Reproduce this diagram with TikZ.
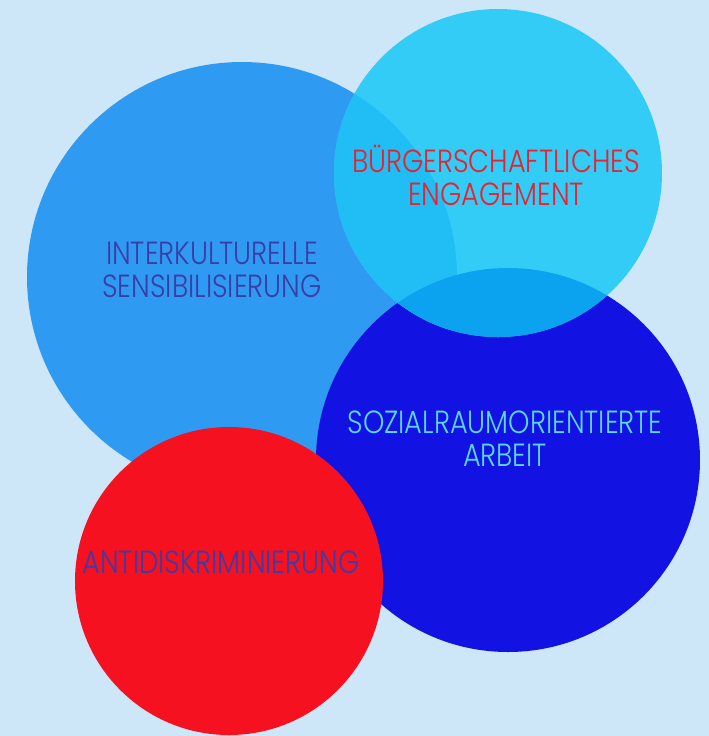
\documentclass[tikz,border=0pt]{standalone}
\usepackage{fontspec}
\usepackage{xcolor}
\usetikzlibrary{positioning}
\setmainfont{Poppins}[UprightFont=* Light, FakeStretch=0.85]

\definecolor{bg}{HTML}{CDE7F9}
\definecolor{skyblue}{HTML}{2F9AF2}
\definecolor{cyanblue}{HTML}{33CCF7}
\definecolor{cyanover}{HTML}{20BEF5}
\definecolor{darkover}{HTML}{0BA2F0}
\definecolor{deepblue}{HTML}{1212E2}
\definecolor{signalred}{HTML}{F5111F}
\definecolor{inktext}{HTML}{3B3DA6}
\definecolor{redtext}{HTML}{E8222E}
\definecolor{lighttext}{HTML}{5CD6FA}

\begin{document}
\begin{tikzpicture}[x=0.5pt, y=-0.5pt,
    lbl/.style={align=center, inner sep=0pt, font=\fontsize{16}{16.5}\selectfont}]
                    \fill[bg] (0,0) rectangle (709,736);
                    \useasboundingbox (0,0) rectangle (709,736);

                    % circles
                    \fill[skyblue] (242,277) circle[radius=215];
                    \fill[deepblue] (508,460) circle[radius=192];
                    \fill[cyanblue] (498,173) circle[radius=164];
                    \begin{scope}
                        \clip (498,173) circle[radius=164];
                        \fill[cyanover] (242,277) circle[radius=215];
                        \fill[darkover] (508,460) circle[radius=192];
                    \end{scope}
                    \fill[signalred] (229,581) circle[radius=154];

                    % labels
                    \node[lbl, text=inktext] (inter) at (212,270) {INTERKULTURELLE\\SENSIBILISIERUNG};
                    \node[lbl, text=redtext] (buerger) at (496,175) {BÜRGERSCHAFTLICHES\\ENGAGEMENT};
                    \node[lbl, text=lighttext] (sozial) at (505,439) {SOZIALRAUMORIENTIERTE\\ARBEIT};
                    \node[lbl, text=inktext] (anti) at (221,562) {ANTIDISKRIMINIERUNG};
                \end{tikzpicture}
\end{document}
